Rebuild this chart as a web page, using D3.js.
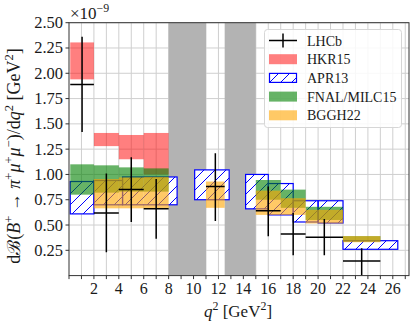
<!DOCTYPE html>
<html>
<head>
<meta charset="utf-8">
<script src="https://cdn.jsdelivr.net/npm/d3@7"></script>
<style>
    body { margin: 0; background: #fff; }
    svg text { font-family: "Liberation Serif", "DejaVu Serif", serif; fill: #1a1a1a; }
</style>
</head>
<body>
<div id="chart"></div>
<script>
// q^2 bins [GeV^2], values in units of 1e-9
const lhcbBins = [[0.1, 2], [2, 4], [4, 6], [6, 8], [11, 12.5], [15, 17], [17, 19], [19, 22], [22, 25]];
const lhcbVal  = [1.89, 0.62, 0.85, 0.66, 0.88, 0.64, 0.41, 0.38, 0.145];
const lhcbLo   = [1.42, 0.23, 0.53, 0.365, 0.54, 0.39, 0.20, 0.20, 0.0];
const lhcbHi   = [2.36, 1.01, 1.17, 0.955, 1.21, 0.88, 0.62, 0.56, 0.27];

const hkrBins = [[0.1, 2], [2, 4], [4, 6], [6, 8]];
const hkrLo   = [1.94, 1.28, 1.15, 1.00];
const hkrHi   = [2.305, 1.41, 1.39, 1.41];

const aprBins = [[0.1, 2], [2, 4.3], [4.3, 8.68], [10.09, 12.86], [14.18, 16], [16, 18], [18, 20], [20, 22], [22, 26.4]];
const aprLo   = [0.61, 0.70, 0.70, 0.75, 0.66, 0.60, 0.53, 0.52, 0.26];
const aprHi   = [0.93, 0.94, 0.975, 1.045, 1.00, 0.91, 0.74, 0.74, 0.345];

const fnalBins = [[0.1, 2], [2, 4], [4, 6], [6, 8], [15, 17], [17, 19], [19, 22], [22, 25]];
const fnalLo   = [0.80, 0.82, 0.83, 0.83, 0.75, 0.67, 0.55, 0.335];
const fnalHi   = [1.10, 1.09, 1.07, 1.06, 0.945, 0.85, 0.68, 0.39];

const bgghBins = [[2, 4], [4, 6], [6, 8], [11, 12.5], [15, 17], [17, 19], [19, 22], [22, 25]];
const bgghLo   = [0.665, 0.665, 0.665, 0.67, 0.60, 0.60, 0.515, 0.33];
const bgghHi   = [0.955, 0.97, 0.975, 0.93, 0.84, 0.765, 0.65, 0.39];

// charmonium veto regions
const vetoBins = [[8, 11], [12.5, 15]];

const xTicks = d3.range(2, 27, 2);
const xMinor = d3.range(0, 28, 1);
const yTicks = d3.range(1, 11).map(d => d * 0.25);

const width = 415, height = 330;
const plot = {left: 69, right: 409, top: 22.7, bottom: 275.6};

let svg = d3.select("#chart").append("svg")
    .attr("width", width)
    .attr("height", height);

let x = d3.scaleLinear().domain([0, 27.3]).range([plot.left, plot.right]);
let y = d3.scaleLinear().domain([0, 2.5]).range([plot.bottom, plot.top]);

let defs = svg.append("defs");
defs.append("clipPath").attr("id", "clip")
    .append("rect")
    .attr("x", plot.left).attr("y", plot.top)
    .attr("width", plot.right - plot.left).attr("height", plot.bottom - plot.top);

let hatch = defs.append("pattern")
    .attr("id", "hatch")
    .attr("patternUnits", "userSpaceOnUse")
    .attr("width", 11).attr("height", 11);
hatch.append("path")
    .attr("d", "M0,11 L11,0 M-3,3 L3,-3 M8,14 L14,8")
    .attr("stroke", "#0000ff")
    .attr("stroke-width", 1);

// grid
let grid = svg.append("g");
grid.selectAll(".vgrid").data(xMinor.filter(d => d > 0))
    .join("line")
    .attr("x1", d => x(d)).attr("x2", d => x(d))
    .attr("y1", plot.top).attr("y2", plot.bottom)
    .attr("stroke", "#cfcfcf").attr("stroke-width", 1);
grid.selectAll(".hgrid").data(yTicks)
    .join("line")
    .attr("y1", d => y(d)).attr("y2", d => y(d))
    .attr("x1", plot.left).attr("x2", plot.right)
    .attr("stroke", "#cfcfcf").attr("stroke-width", 1);

let area = svg.append("g").attr("clip-path", "url(#clip)");

function boxData(bins, lo, hi) {
    return bins.map((b, i) => ({b: b, lo: lo[i], hi: hi[i]}));
}

function drawBoxes(data, fill, opacity) {
    return area.append("g").selectAll("rect").data(data)
        .join("rect")
        .attr("x", d => x(d.b[0]))
        .attr("width", d => x(d.b[1]) - x(d.b[0]))
        .attr("y", d => y(d.hi))
        .attr("height", d => y(d.lo) - y(d.hi))
        .attr("fill", fill)
        .attr("fill-opacity", opacity);
}

// veto bands
drawBoxes(vetoBins.map(b => ({b: b, lo: 0, hi: 2.5})), "#b3b3b3", 1);

// HKR15
drawBoxes(boxData(hkrBins, hkrLo, hkrHi), "#ff0000", 0.5);

// APR13 : white + hatch + blue edge
let aprData = boxData(aprBins, aprLo, aprHi);
drawBoxes(aprData, "#ffffff", 1);
drawBoxes(aprData, "url(#hatch)", 1)
    .attr("stroke", "#0000ff")
    .attr("stroke-width", 1.2);

// FNAL/MILC15
drawBoxes(boxData(fnalBins, fnalLo, fnalHi), "#008000", 0.6);

// BGGH22
drawBoxes(boxData(bgghBins, bgghLo, bgghHi), "#ffa500", 0.6);

// LHCb data
let lhcb = lhcbBins.map((b, i) => ({b: b, v: lhcbVal[i], lo: lhcbLo[i], hi: lhcbHi[i]}));
let pts = area.append("g").selectAll("g").data(lhcb).join("g");
pts.append("line")
    .attr("x1", d => x(d.b[0])).attr("x2", d => x(d.b[1]))
    .attr("y1", d => y(d.v)).attr("y2", d => y(d.v))
    .attr("stroke", "#000").attr("stroke-width", 1.5);
pts.append("line")
    .attr("x1", d => x((d.b[0] + d.b[1]) / 2)).attr("x2", d => x((d.b[0] + d.b[1]) / 2))
    .attr("y1", d => y(d.hi)).attr("y2", d => y(d.lo))
    .attr("stroke", "#000").attr("stroke-width", 1.5);

// frame
svg.append("rect")
    .attr("x", plot.left).attr("y", plot.top)
    .attr("width", plot.right - plot.left).attr("height", plot.bottom - plot.top)
    .attr("fill", "none").attr("stroke", "#333").attr("stroke-width", 1);

// x ticks
let axisColor = "#333";
svg.append("g").selectAll("line").data(xMinor.filter(d => x(d) <= plot.right))
    .join("line")
    .attr("x1", d => x(d)).attr("x2", d => x(d))
    .attr("y1", plot.bottom).attr("y2", plot.bottom + 3.5)
    .attr("stroke", axisColor).attr("stroke-width", 1);
svg.append("g").selectAll("text").data(xTicks)
    .join("text")
    .attr("x", d => x(d))
    .attr("y", 294)
    .attr("text-anchor", "middle")
    .style("font-size", "16px")
    .text(d => d);

// y ticks
svg.append("g").selectAll("line").data(yTicks)
    .join("line")
    .attr("x1", plot.left - 3.5).attr("x2", plot.left)
    .attr("y1", d => y(d)).attr("y2", d => y(d))
    .attr("stroke", axisColor).attr("stroke-width", 1);
svg.append("g").selectAll("text").data(yTicks)
    .join("text")
    .attr("x", plot.left - 6)
    .attr("y", d => y(d) + 5.5)
    .attr("text-anchor", "end")
    .style("font-size", "16.5px")
    .text(d => d.toFixed(2));

// rich text helper: parts of {t, sup, it}
function richText(sel, parts, size) {
    let supSize = size * 0.7, shift = size * 0.4;
    let up = false;
    parts.forEach(p => {
        let ts = sel.append("tspan").text(p.t);
        if (p.sup && !up) { ts.attr("dy", -shift); up = true; }
        else if (!p.sup && up) { ts.attr("dy", shift); up = false; }
        if (p.sup) ts.style("font-size", supSize + "px");
        if (p.it) ts.style("font-style", "italic");
    });
}

// offset text
let off = svg.append("text")
    .attr("x", 70).attr("y", 19)
    .style("font-size", "17px");
richText(off, [{t: "×10"}, {t: "−9", sup: true}], 17);

// x label
let xl = svg.append("text")
    .attr("x", 238).attr("y", 317)
    .attr("text-anchor", "middle")
    .style("font-size", "17px");
richText(xl, [{t: "q", it: true}, {t: "2", sup: true}, {t: " [GeV"}, {t: "2", sup: true}, {t: "]"}], 17);

// y label
let yl = svg.append("text")
    .attr("transform", "translate(20,156) rotate(-90)")
    .attr("text-anchor", "middle")
    .style("font-size", "18px");
richText(yl, [
    {t: "dℬ("}, {t: "B", it: true}, {t: "+", sup: true},
    {t: "  →  "}, {t: "π", it: true}, {t: "+", sup: true},
    {t: "μ", it: true}, {t: "+", sup: true},
    {t: "μ", it: true}, {t: "−", sup: true},
    {t: ")/d"}, {t: "q", it: true}, {t: "2", sup: true},
    {t: " [GeV"}, {t: "2", sup: true}, {t: "]"}
], 18);

// legend
let legend = svg.append("g");
legend.append("rect")
    .attr("x", 264.5).attr("y", 29.5)
    .attr("width", 137).attr("height", 98)
    .attr("rx", 3)
    .attr("fill", "#fff").attr("fill-opacity", 0.85)
    .attr("stroke", "#d6d6d6").attr("stroke-width", 1);

let legendItems = [
    {name: "LHCb", type: "err"},
    {name: "HKR15", fill: "#ff0000", op: 0.5},
    {name: "APR13", type: "hatch"},
    {name: "FNAL/MILC15", fill: "#008000", op: 0.6},
    {name: "BGGH22", fill: "#ffa500", op: 0.6}
];

legendItems.forEach((d, i) => {
    let cy = 40.5 + i * 18.7;
    let g = legend.append("g");
    if (d.type === "err") {
        g.append("line").attr("x1", 269).attr("x2", 297).attr("y1", cy).attr("y2", cy)
            .attr("stroke", "#000").attr("stroke-width", 1.5);
        g.append("line").attr("x1", 283).attr("x2", 283).attr("y1", cy - 7).attr("y2", cy + 7)
            .attr("stroke", "#000").attr("stroke-width", 1.5);
    } else if (d.type === "hatch") {
        g.append("rect").attr("x", 269.5).attr("y", cy - 4.5).attr("width", 27).attr("height", 9)
            .attr("fill", "url(#hatch)").attr("stroke", "#0000ff").attr("stroke-width", 1.2);
    } else {
        g.append("rect").attr("x", 269).attr("y", cy - 5).attr("width", 28).attr("height", 10)
            .attr("fill", d.fill).attr("fill-opacity", d.op);
    }
    g.append("text")
        .attr("x", 307).attr("y", cy + 5)
        .style("font-size", "14px")
        .text(d.name);
});
</script>
</body>
</html>
